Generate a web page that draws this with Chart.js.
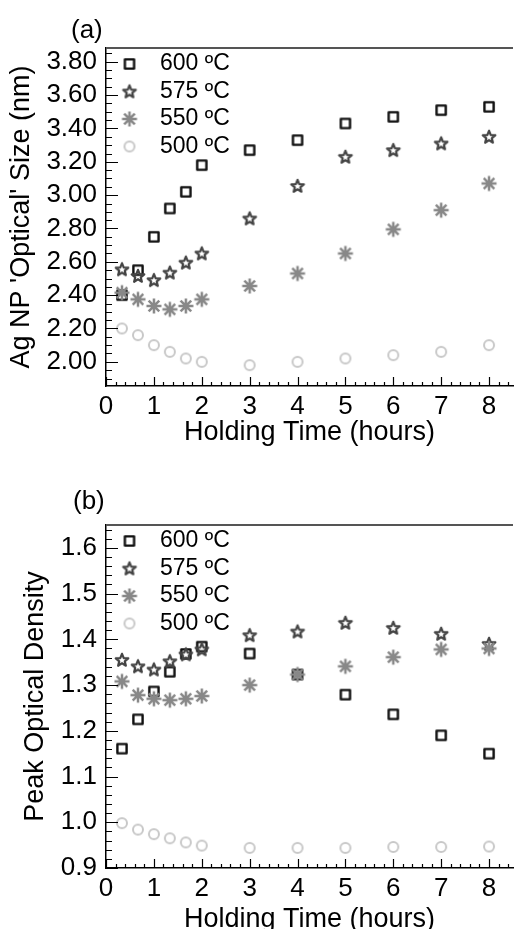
<!DOCTYPE html>
<html>
<head>
<meta charset="utf-8">
<script src="https://cdn.jsdelivr.net/npm/chart.js@4.4.0/dist/chart.umd.min.js"></script>
<style>
  html, body { margin: 0; padding: 0; background: #fff; overflow: hidden; }
  #wrap { position: relative; width: 521px; height: 929px; }
  .panel { position: absolute; left: 0; width: 521px; }
  .tag { position: absolute; z-index: 2; font: 26px "Liberation Sans", Arial, sans-serif; line-height: 26px; color: #000; }
</style>
</head>
<body>
<div id="wrap">
  <div class="panel" style="top:0; height:460px;"><canvas id="sizeChart"></canvas></div>
  <div class="panel" style="top:460px; height:480px;"><canvas id="densityChart"></canvas></div>
  <div class="tag" style="left:71px; top:16px;">(a)</div>
  <div class="tag" style="left:73px; top:487px;">(b)</div>
</div>
<script>
// holding times (hours)
const hours = [0.333, 0.667, 1, 1.333, 1.667, 2, 3, 4, 5, 6, 7, 8];
const seriesNames = ['600 ºC', '575 ºC', '550 ºC', '500 ºC'];

// (a) Ag NP 'optical' size (nm)
const size600 = [2.40, 2.55, 2.75, 2.92, 3.02, 3.18, 3.27, 3.33, 3.43, 3.47, 3.51, 3.53];
const size575 = [2.555, 2.515, 2.49, 2.535, 2.595, 2.65, 2.86, 3.055, 3.23, 3.27, 3.31, 3.35];
const size550 = [2.415, 2.375, 2.335, 2.315, 2.335, 2.375, 2.455, 2.53, 2.65, 2.795, 2.91, 3.07];
const size500 = [2.20, 2.16, 2.10, 2.06, 2.02, 2.00, 1.98, 2.00, 2.02, 2.04, 2.06, 2.10];

// (b) peak optical density
const od600 = [1.161, 1.225, 1.286, 1.329, 1.368, 1.384, 1.369, 1.323, 1.279, 1.236, 1.19, 1.15];
const od575 = [1.355, 1.341, 1.334, 1.352, 1.367, 1.378, 1.409, 1.417, 1.436, 1.425, 1.412, 1.39];
const od550 = [1.308, 1.278, 1.27, 1.267, 1.27, 1.276, 1.30, 1.323, 1.341, 1.361, 1.378, 1.38];
const od500 = [0.998, 0.984, 0.974, 0.965, 0.956, 0.949, 0.944, 0.944, 0.944, 0.946, 0.946, 0.947];

// tick labels
const xTicks = [0, 1, 2, 3, 4, 5, 6, 7, 8];
const sizeTicks = [2.0, 2.2, 2.4, 2.6, 2.8, 3.0, 3.2, 3.4, 3.6, 3.8];
const odTicks = [0.9, 1.0, 1.1, 1.2, 1.3, 1.4, 1.5, 1.6];

Chart.defaults.font.family = '"Liberation Sans", Arial, sans-serif';
Chart.defaults.color = '#000';

// marker glyphs drawn once on small canvases
function makeMarker(kind, color, lw) {
    const c = document.createElement('canvas');
    c.width = c.height = 20;
    const g = c.getContext('2d');
    g.strokeStyle = color;
    g.lineWidth = lw;
    g.lineJoin = 'round';
    g.beginPath();
    if (kind === 'square') {
        g.rect(5.4, 5.4, 9.2, 9.2);
    } else if (kind === 'circle') {
        g.arc(10, 10, 5, 0, Math.PI * 2);
    } else if (kind === 'star') {
        for (let i = 0; i < 10; i++) {
            const r = i % 2 ? 2.9 : 6.6;
            const a = -Math.PI / 2 + i * Math.PI / 5;
            g.lineTo(10 + r * Math.cos(a), 10.4 + r * Math.sin(a));
        }
        g.closePath();
    } else {
        for (let i = 0; i < 4; i++) {
            const a = i * Math.PI / 4;
            g.moveTo(10 - 7.5 * Math.cos(a), 10 - 7.5 * Math.sin(a));
            g.lineTo(10 + 7.5 * Math.cos(a), 10 + 7.5 * Math.sin(a));
        }
    }
    g.stroke();
    return c;
}

const markers = [
    makeMarker('square', '#111', 2.4),
    makeMarker('star', '#444', 2.2),
    makeMarker('asterisk', '#888', 2.5),
    makeMarker('circle', '#c8c8c8', 2)
];

// vertical legend at 'chartArea' gets top=0 from the layout, pin it to the plot top
const pinLegend = {
    id: 'pinLegend',
    afterLayout(chart) {
        const lg = chart.legend;
        if (!lg) return;
        const h = lg.height;
        lg.top = chart.chartArea.top;
        lg.bottom = lg.top + h;
    }
};

// inward tick marks + grey top frame line
const frameTicks = {
    id: 'frameTicks',
    afterDraw(chart, args, o) {
        const { ctx, chartArea: a, scales: { x, y } } = chart;
        ctx.save();
        ctx.strokeStyle = '#555';
        ctx.lineWidth = 2;
        ctx.beginPath();
        ctx.moveTo(a.left, a.top);
        ctx.lineTo(a.right, a.top);
        ctx.stroke();

        ctx.strokeStyle = '#000';
        ctx.lineWidth = 1.2;
        ctx.beginPath();
        const isMajor = (list, v) => list.some(t => Math.abs(t - v) < 1e-6);
        let first = Math.ceil(y.min / o.yStep - 1e-6);
        let last = Math.floor(y.max / o.yStep + 1e-6);
        for (let i = first; i <= last; i++) {
            const v = i * o.yStep;
            const py = Math.round(y.getPixelForValue(v)) + 0.5;
            ctx.moveTo(a.left, py);
            ctx.lineTo(a.left + (isMajor(o.yMajor, v) ? 12 : 6), py);
        }
        first = Math.ceil(x.min / o.xStep - 1e-6);
        last = Math.floor(x.max / o.xStep + 1e-6);
        for (let i = first; i <= last; i++) {
            const v = i * o.xStep;
            const px = Math.round(x.getPixelForValue(v)) + 0.5;
            ctx.moveTo(px, a.bottom);
            ctx.lineTo(px, a.bottom - (isMajor(xTicks, v) ? 9 : 4));
        }
        ctx.stroke();
        ctx.restore();
    }
};

function buildConfig(series, yOpts) {
    return {
        type: 'scatter',
        data: {
            datasets: series.map((vals, i) => ({
                label: seriesNames[i],
                data: hours.map((h, j) => ({ x: h, y: vals[j] })),
                pointStyle: markers[i],
                pointRadius: 7,
                order: 4 - i
            }))
        },
        plugins: [pinLegend, frameTicks],
        options: {
            responsive: true,
            maintainAspectRatio: false,
            animation: false,
            events: [],
            layout: { padding: { top: yOpts.padTop, left: 0, right: 0, bottom: 0 } },
            plugins: {
                tooltip: { enabled: false },
                legend: {
                    position: 'chartArea',
                    align: 'start',
                    labels: {
                        usePointStyle: true,
                        pointStyleWidth: 38,
                        padding: 4.5,
                        color: '#000',
                        font: { size: 23 },
                        sort: (a, b) => a.datasetIndex - b.datasetIndex
                    }
                },
                frameTicks: { yMajor: yOpts.ticks, yStep: yOpts.minorStep, xStep: 0.2 }
            },
            scales: {
                x: {
                    type: 'linear',
                    min: 0,
                    max: 8.5,
                    afterBuildTicks: s => { s.ticks = xTicks.map(v => ({ value: v })); },
                    afterFit: s => { s.height = yOpts.xHeight; },
                    grid: { display: false, drawTicks: false },
                    border: { display: true, color: '#000', width: 1.5 },
                    ticks: { padding: 5, font: { size: 26 }, color: '#000' },
                    title: {
                        display: true,
                        text: 'Holding Time (hours)',
                        font: { size: 27 },
                        color: '#000',
                        padding: { top: 0, bottom: yOpts.xTitlePad }
                    }
                },
                y: {
                    min: yOpts.min,
                    max: yOpts.max,
                    afterBuildTicks: s => { s.ticks = yOpts.ticks.map(v => ({ value: v })); },
                    afterFit: s => { s.width = 106; },
                    grid: { display: false, drawTicks: false },
                    border: { display: true, color: '#000', width: 1.5 },
                    ticks: {
                        padding: 9,
                        font: { size: 26 },
                        color: '#000',
                        callback: v => v.toFixed(yOpts.digits)
                    },
                    title: {
                        display: true,
                        text: yOpts.title,
                        font: { size: 27 },
                        color: '#000',
                        padding: { top: yOpts.yTitlePad, bottom: 0 }
                    }
                }
            }
        }
    };
}

new Chart(document.getElementById('sizeChart'), buildConfig(
    [size600, size575, size550, size500],
    {
        min: 1.855, max: 3.883, ticks: sizeTicks, minorStep: 0.05, digits: 2,
        title: "Ag NP 'Optical' Size (nm)", padTop: 48, xHeight: 74,
        xTitlePad: 11, yTitlePad: 5.5
    }
));

new Chart(document.getElementById('densityChart'), buildConfig(
    [od600, od575, od550, od500],
    {
        min: 0.9, max: 1.65, ticks: odTicks, minorStep: 0.02, digits: 1,
        title: 'Peak Optical Density', padTop: 65, xHeight: 72,
        xTitlePad: 4, yTitlePad: 19.5
    }
));
</script>
</body>
</html>
